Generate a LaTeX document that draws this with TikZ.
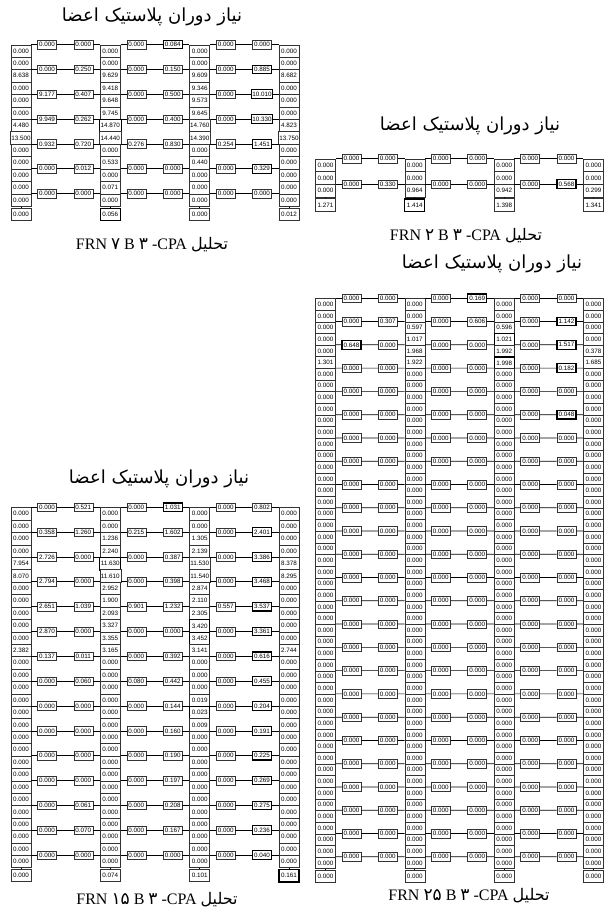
\documentclass[tikz,border=0pt]{standalone}
\usepackage{fontspec}
\setmainfont{Liberation Serif}
\newfontfamily\numfont{Liberation Sans}
\newfontfamily\arfont[Script=Arabic]{DejaVu Sans}
\TeXXeTstate=1

\newcommand\getv[1]{\ifcsname rv@#1\endcsname\csname rv@#1\endcsname\else 0.000\fi}
\newcommand\setv[2]{\expandafter\gdef\csname rv@#1\endcsname{#2}}
\newcommand\setk[1]{\expandafter\gdef\csname rk@#1\endcsname{}}
\newcommand\setcol[3]{\foreach \vv [count=\nn] in {#3}{\expandafter\xdef\csname rv@#1-c#2-\nn\endcsname{\vv}}}
\newcommand\setrow[3]{\foreach \vv [count=\nn] in {#3}{%
  \pgfmathtruncatemacro\bb{int((\nn+1)/2)}%
  \ifodd\nn\relax\expandafter\xdef\csname rv@#1-r#2-\bb L\endcsname{\vv}%
  \else\expandafter\xdef\csname rv@#1-r#2-\bb R\endcsname{\vv}\fi}}

% ---------- panel A (7 stories)
\setcol{A}{1}{0.000,0.000,8.638,0.000,0.000,0.000,4.480,13.500,0.000,0.000,0.000,0.000,0.000,0.000}
\setcol{A}{2}{0.000,0.000,9.629,9.418,9.648,9.745,14.870,14.440,0.000,0.533,0.000,0.071,0.000,0.056}
\setcol{A}{3}{0.000,0.000,9.609,9.346,9.573,9.645,14.760,14.390,0.000,0.440,0.000,0.000,0.000,0.000}
\setcol{A}{4}{0.000,0.000,8.682,0.000,0.000,0.000,4.823,13.750,0.000,0.000,0.000,0.000,0.000,0.012}
\setrow{A}{1}{0.000,0.000,0.000,0.084,0.000,0.000}
\setrow{A}{2}{0.000,0.250,0.000,0.150,0.000,0.885}
\setrow{A}{3}{9.177,0.407,0.000,0.500,0.000,10.010}
\setrow{A}{4}{9.949,0.262,0.000,0.400,0.000,10.330}
\setrow{A}{5}{0.932,0.720,0.276,0.830,0.254,1.451}
\setrow{A}{6}{0.000,0.012,0.000,0.000,0.000,0.329}
\setk{A-r1-2R}\setk{A-r2-3R}\setk{A-r3-3R}\setk{A-r4-3R}\setk{A-r5-3R}\setk{A-r6-3R}
\setk{A-c2-7}\setk{A-c2-14}
% ---------- panel B (2 stories)
\setcol{B}{1}{0.000,0.000,0.000,1.271}
\setcol{B}{2}{0.000,0.000,0.964,1.414}
\setcol{B}{3}{0.000,0.000,0.942,1.398}
\setcol{B}{4}{0.000,0.000,0.299,1.341}
\setrow{B}{2}{0.000,0.330,0.000,0.000,0.000,0.568}
\setk{B-r2-3R}\setk{B-c2-4}
% ---------- panel C (25 stories)
\setcol{C}{1}{0.000,0.000,0.000,0.000,0.000,1.301}
\setcol{C}{2}{0.000,0.000,0.597,1.017,1.968,1.922}
\setcol{C}{3}{0.000,0.000,0.596,1.021,1.992,1.998}
\setcol{C}{4}{0.000,0.000,0.000,0.000,0.378,1.685}
\setrow{C}{1}{0.000,0.000,0.000,0.169,0.000,0.000}
\setrow{C}{2}{0.000,0.307,0.000,0.606,0.000,1.142}
\setrow{C}{3}{0.648,0.000,0.000,0.000,0.000,1.517}
\setrow{C}{4}{0.000,0.000,0.000,0.000,0.000,0.182}
\setrow{C}{6}{0.000,0.000,0.000,0.000,0.000,0.048}
\setk{C-r1-2R}\setk{C-r2-3R}\setk{C-r3-3R}\setk{C-r4-3R}\setk{C-r6-3R}\setk{C-r3-1L}
\setk{C-c3-4}\setk{C-c3-6}
% ---------- panel D (15 stories)
\setcol{D}{1}{0.000,0.000,0.000,0.000,7.954,8.070,0.000,0.000,0.000,0.000,0.000,2.382}
\setcol{D}{2}{0.000,0.000,1.236,2.240,11.630,11.610,2.952,1.900,2.093,3.327,3.355,3.165}
\setcol{D}{3}{0.000,0.000,1.305,2.139,11.530,11.540,2.874,2.110,2.305,3.420,3.452,3.141,0.000,0.000,0.000,0.019,0.023,0.009}
\setcol{D}{4}{0.000,0.000,0.000,0.000,8.378,8.295,0.000,0.000,0.000,0.000,0.000,2.744}
\setv{D-c2-30}{0.074}\setv{D-c3-30}{0.101}\setv{D-c4-30}{0.161}
\setrow{D}{1}{0.000,0.521,0.000,1.031,0.000,0.802}
\setrow{D}{2}{0.358,1.260,0.215,1.602,0.000,2.401}
\setrow{D}{3}{2.726,0.000,0.000,0.387,0.000,3.386}
\setrow{D}{4}{2.794,0.000,0.000,0.398,0.000,3.468}
\setrow{D}{5}{2.651,1.039,0.901,1.232,0.557,3.537}
\setrow{D}{6}{2.870,0.000,0.000,0.000,0.000,3.361}
\setrow{D}{7}{0.137,0.011,0.000,0.392,0.000,0.616}
\setrow{D}{8}{0.000,0.060,0.080,0.442,0.000,0.455}
\setrow{D}{9}{0.000,0.000,0.000,0.144,0.000,0.204}
\setrow{D}{10}{0.000,0.000,0.000,0.160,0.000,0.191}
\setrow{D}{11}{0.000,0.000,0.000,0.190,0.000,0.225}
\setrow{D}{12}{0.000,0.000,0.000,0.197,0.000,0.269}
\setrow{D}{13}{0.000,0.061,0.000,0.208,0.000,0.275}
\setrow{D}{14}{0.000,0.070,0.000,0.167,0.000,0.236}
\setrow{D}{15}{0.000,0.000,0.000,0.000,0.000,0.040}
\setk{D-r1-2R}
\foreach \q in {2,...,15}{\expandafter\gdef\csname rk@D-r\q-3R\endcsname{}}
\setk{D-c2-5}\setk{D-c3-10}\setk{D-c3-11}\setk{D-c3-17}\setk{D-c4-30}

\tikzset{
  numf/.style={font=\numfont\fontsize{6.3}{6.3}\selectfont},
  cbox/.style={numf, draw=black!80, line width=0.5pt, fill=white, inner xsep=1.1pt,
    inner ysep=0pt, minimum width=20pt, anchor=north},
  bbox/.style={numf, draw=black!80, line width=0.5pt, fill=white, inner xsep=1.1pt,
    inner ysep=0pt, minimum width=19pt, minimum height=8.6pt},
  hv/.code={\ifcsname rk@#1\endcsname\tikzset{line width=1.1pt, draw=black}\fi},
  beam/.style={line width=0.7pt, draw=black},
  ttl/.style={font=\arfont\fontsize{18}{18}\selectfont},
  captxt/.style={font=\fontsize{16}{16}\selectfont},
}
\newcommand\pd[1]{{\arfont\fontsize{17}{17}\selectfont #1}}

% #1 prefix, #2 x of first column, #3 roof y, #4 storey height, #5 storeys
\newcommand\frameat[5]{%
  \pgfmathsetmacro\hh{#4/2}%
  \pgfmathtruncatemacro\nb{2*#5}%
  \pgfmathtruncatemacro\nbm{2*#5-1}%
  \foreach \cc in {1,...,4}{%
    \pgfmathsetmacro\cx{#2+89.33*(\cc-1)}%
    \foreach \ii in {1,...,\nb}{%
      \pgfmathsetmacro\cy{#3+(\ii-1)*\hh+(\ii==\nb?1.5:0)}%
      \node[cbox, minimum height=\hh pt, hv=#1-c\cc-\ii] (#1-c\cc-\ii) at (\cx,\cy) {\getv{#1-c\cc-\ii}};
    }%
    \draw[beam] (#1-c\cc-\nbm.south) -- (#1-c\cc-\nb.north);
  }%
  \foreach \rr in {1,...,#5}{%
    \pgfmathsetmacro\ry{#3+(\rr-1)*#4}%
    \pgfmathtruncatemacro\kk{2*\rr-1}%
    \foreach \jj in {1,2,3}{%
      \pgfmathtruncatemacro\jn{\jj+1}%
      \pgfmathsetmacro\lx{#2+89.33*(\jj-1)+26}%
      \pgfmathsetmacro\rx{#2+89.33*\jj-27}%
      \node[bbox, hv=#1-r\rr-\jj L] (#1-r\rr-\jj L) at (\lx,\ry) {\getv{#1-r\rr-\jj L}};
      \node[bbox, hv=#1-r\rr-\jj R] (#1-r\rr-\jj R) at (\rx,\ry) {\getv{#1-r\rr-\jj R}};
      \draw[beam] (#1-c\jj-\kk.north east) -- (#1-r\rr-\jj L) -- (#1-r\rr-\jj R) -- (#1-c\jn-\kk.north west);
    }%
  }%
}

\begin{document}
\begin{tikzpicture}[x=1pt,y=-1pt]
\fill[white] (0,0) rectangle (613,910);
\useasboundingbox (0,0) rectangle (613,910);

\frameat{A}{21}{44.5}{24.85}{7}
\frameat{B}{325.5}{158.5}{25.6}{2}
\frameat{C}{325.5}{298.3}{23.27}{25}
\frameat{D}{21}{507.3}{24.84}{15}

\node[ttl] (tA) at (152,17) {\beginR نیاز دوران پلاستیک اعضا\endR};
\node[ttl] (tB) at (470,126) {\beginR نیاز دوران پلاستیک اعضا\endR};
\node[ttl] (tC) at (492,264) {\beginR نیاز دوران پلاستیک اعضا\endR};
\node[ttl] (tD) at (159,479) {\beginR نیاز دوران پلاستیک اعضا\endR};

\node[captxt] (cA) at (152,245) {FRN \pd{۷} B \pd{۳} -CPA {\arfont\beginR تحلیل\endR}};
\node[captxt] (cB) at (466,236) {FRN \pd{۲} B \pd{۳} -CPA {\arfont\beginR تحلیل\endR}};
\node[captxt] (cC) at (469,896) {FRN \pd{۲۵} B \pd{۳} -CPA {\arfont\beginR تحلیل\endR}};
\node[captxt] (cD) at (157,900) {FRN \pd{۱۵} B \pd{۳} -CPA {\arfont\beginR تحلیل\endR}};
\end{tikzpicture}
\end{document}
